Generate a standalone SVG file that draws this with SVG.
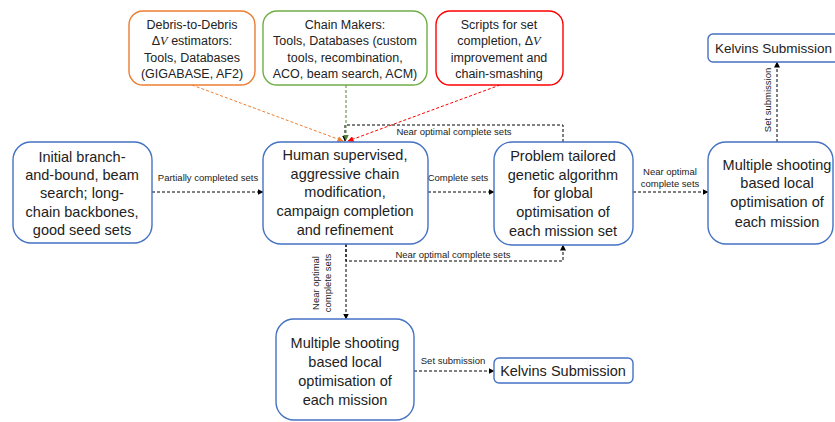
<svg xmlns="http://www.w3.org/2000/svg" width="835" height="422" viewBox="0 0 835 422">
<defs>
<style>
.t{font-family:"Liberation Sans",Arial,sans-serif;font-size:14.5px;fill:#222;text-anchor:middle}
.s{font-family:"Liberation Sans",Arial,sans-serif;font-size:12.5px;fill:#222;text-anchor:middle}
.l{font-family:"Liberation Sans",Arial,sans-serif;font-size:9.5px;fill:#222;text-anchor:middle}
.bx{fill:#fff;stroke:#4472C4;stroke-width:1.4}
.c{fill:none;stroke:#000;stroke-width:1;stroke-dasharray:3,2}
.i{font-style:italic;font-family:"Liberation Serif",serif}
</style>
<marker id="ab" viewBox="0 0 6 6" refX="5.5" refY="3" markerWidth="6" markerHeight="6" orient="auto" markerUnits="userSpaceOnUse"><path d="M0,0 L6,3 L0,6 z" fill="#000"/></marker>
<marker id="ao" viewBox="0 0 6 6" refX="5.5" refY="3" markerWidth="6" markerHeight="6" orient="auto" markerUnits="userSpaceOnUse"><path d="M0,0 L6,3 L0,6 z" fill="#ED7D31"/></marker>
<marker id="ag" viewBox="0 0 6 6" refX="5.5" refY="3" markerWidth="6" markerHeight="6" orient="auto" markerUnits="userSpaceOnUse"><path d="M0,0 L6,3 L0,6 z" fill="#548235"/></marker>
<marker id="ar" viewBox="0 0 6 6" refX="5.5" refY="3" markerWidth="6" markerHeight="6" orient="auto" markerUnits="userSpaceOnUse"><path d="M0,0 L6,3 L0,6 z" fill="#FF0000"/></marker>
</defs>
<rect width="835" height="422" fill="#fff"/>

<g id="connectors">
<path class="c" d="M152,192 L263,192" marker-end="url(#ab)"/>
<text class="l" x="208" y="181">Partially completed sets</text>
<path class="c" d="M428,192 L494,192" marker-end="url(#ab)"/>
<text class="l" x="458" y="181">Complete sets</text>
<path class="c" d="M633,192 L708,192" marker-end="url(#ab)"/>
<text class="l" x="670" y="175">Near optimal</text>
<text class="l" x="670" y="187">complete sets</text>
<path class="c" d="M563,142 L563,125 L345,125 L345,141" marker-end="url(#ab)"/>
<text class="l" x="454" y="135">Near optimal complete sets</text>
<path class="c" d="M346,244 L346,261 L563,261 L563,245" marker-end="url(#ab)"/>
<text class="l" x="453" y="258">Near optimal complete sets</text>
<path class="c" d="M346,244 L346,319" marker-end="url(#ab)"/>
<text class="l" transform="translate(319,283) rotate(-90)">Near optimal</text>
<text class="l" transform="translate(331,283) rotate(-90)">complete sets</text>
<path class="c" d="M777,142 L777,62" marker-end="url(#ab)"/>
<text class="l" transform="translate(771,100) rotate(-90)">Set submission</text>
<path class="c" d="M414,371 L494,371" marker-end="url(#ab)"/>
<text class="l" x="453" y="364">Set submission</text>
<path d="M192,85 L343,141" fill="none" stroke="#ED7D31" stroke-width="1" stroke-dasharray="3,2" marker-end="url(#ao)"/>
<path d="M346,85 L346,140" fill="none" stroke="#548235" stroke-width="1" stroke-dasharray="3,2" marker-end="url(#ag)"/>
<path d="M500,85 L348,141" fill="none" stroke="#FF0000" stroke-width="1" stroke-dasharray="3,2" marker-end="url(#ar)"/>
</g>

<g id="debris">
<rect x="129" y="11" width="126" height="74" rx="14" fill="#fff" stroke="#ED7D31" stroke-width="1.4"/>
<text class="s" x="192" y="29">Debris-to-Debris</text>
<text class="s" x="192" y="45">Δ<tspan class="i">V</tspan> estimators:</text>
<text class="s" x="192" y="62">Tools, Databases</text>
<text class="s" x="192" y="78">(GIGABASE, AF2)</text>
</g>
<g id="chain">
<rect x="263" y="11" width="164" height="74" rx="14" fill="#fff" stroke="#70AD47" stroke-width="1.4"/>
<text class="s" x="345" y="29">Chain Makers:</text>
<text class="s" x="345" y="45">Tools, Databases (custom</text>
<text class="s" x="345" y="62">tools, recombination,</text>
<text class="s" x="345" y="78">ACO, beam search, ACM)</text>
</g>
<g id="scripts">
<rect x="436" y="11" width="127" height="74" rx="14" fill="#fff" stroke="#FF0000" stroke-width="1.4"/>
<text class="s" x="499" y="29">Scripts for set</text>
<text class="s" x="499" y="45">completion, Δ<tspan class="i">V</tspan></text>
<text class="s" x="499" y="62">improvement and</text>
<text class="s" x="499" y="78">chain-smashing</text>
</g>

<g id="initial">
<rect class="bx" x="13" y="142" width="139" height="101" rx="18"/>
<text class="t" x="82" y="162">Initial branch-</text>
<text class="t" x="82" y="180">and-bound, beam</text>
<text class="t" x="82" y="198">search; long-</text>
<text class="t" x="82" y="217">chain backbones,</text>
<text class="t" x="82" y="235">good seed sets</text>
</g>
<g id="human">
<rect class="bx" x="263" y="142" width="165" height="102" rx="18"/>
<text class="t" x="345" y="160">Human supervised,</text>
<text class="t" x="345" y="179">aggressive chain</text>
<text class="t" x="345" y="197">modification,</text>
<text class="t" x="345" y="216">campaign completion</text>
<text class="t" x="345" y="235">and refinement</text>
</g>
<g id="genetic">
<rect class="bx" x="494" y="142" width="139" height="103" rx="18"/>
<text class="t" x="563" y="161">Problem tailored</text>
<text class="t" x="563" y="180">genetic algorithm</text>
<text class="t" x="563" y="198">for global</text>
<text class="t" x="563" y="217">optimisation of</text>
<text class="t" x="563" y="236">each mission set</text>
</g>
<g id="multiple-right">
<rect class="bx" x="708" y="142" width="125" height="102" rx="18"/>
<text class="t" x="777" y="170">Multiple shooting</text>
<text class="t" x="777" y="188">based local</text>
<text class="t" x="777" y="207">optimisation of</text>
<text class="t" x="777" y="227">each mission</text>
</g>
<g id="kelvins-top">
<rect class="bx" x="708" y="34" width="139" height="28" rx="5"/>
<text class="t" x="715" y="53" style="text-anchor:start;font-size:13.5px">Kelvins Submission</text>
</g>
<g id="multiple-bottom">
<rect class="bx" x="276" y="319" width="138" height="101" rx="18"/>
<text class="t" x="345" y="348">Multiple shooting</text>
<text class="t" x="345" y="367">based local</text>
<text class="t" x="345" y="386">optimisation of</text>
<text class="t" x="345" y="405">each mission</text>
</g>
<g id="kelvins-bottom">
<rect class="bx" x="494" y="358" width="139" height="25" rx="5"/>
<text class="t" x="563" y="376">Kelvins Submission</text>
</g>
</svg>
